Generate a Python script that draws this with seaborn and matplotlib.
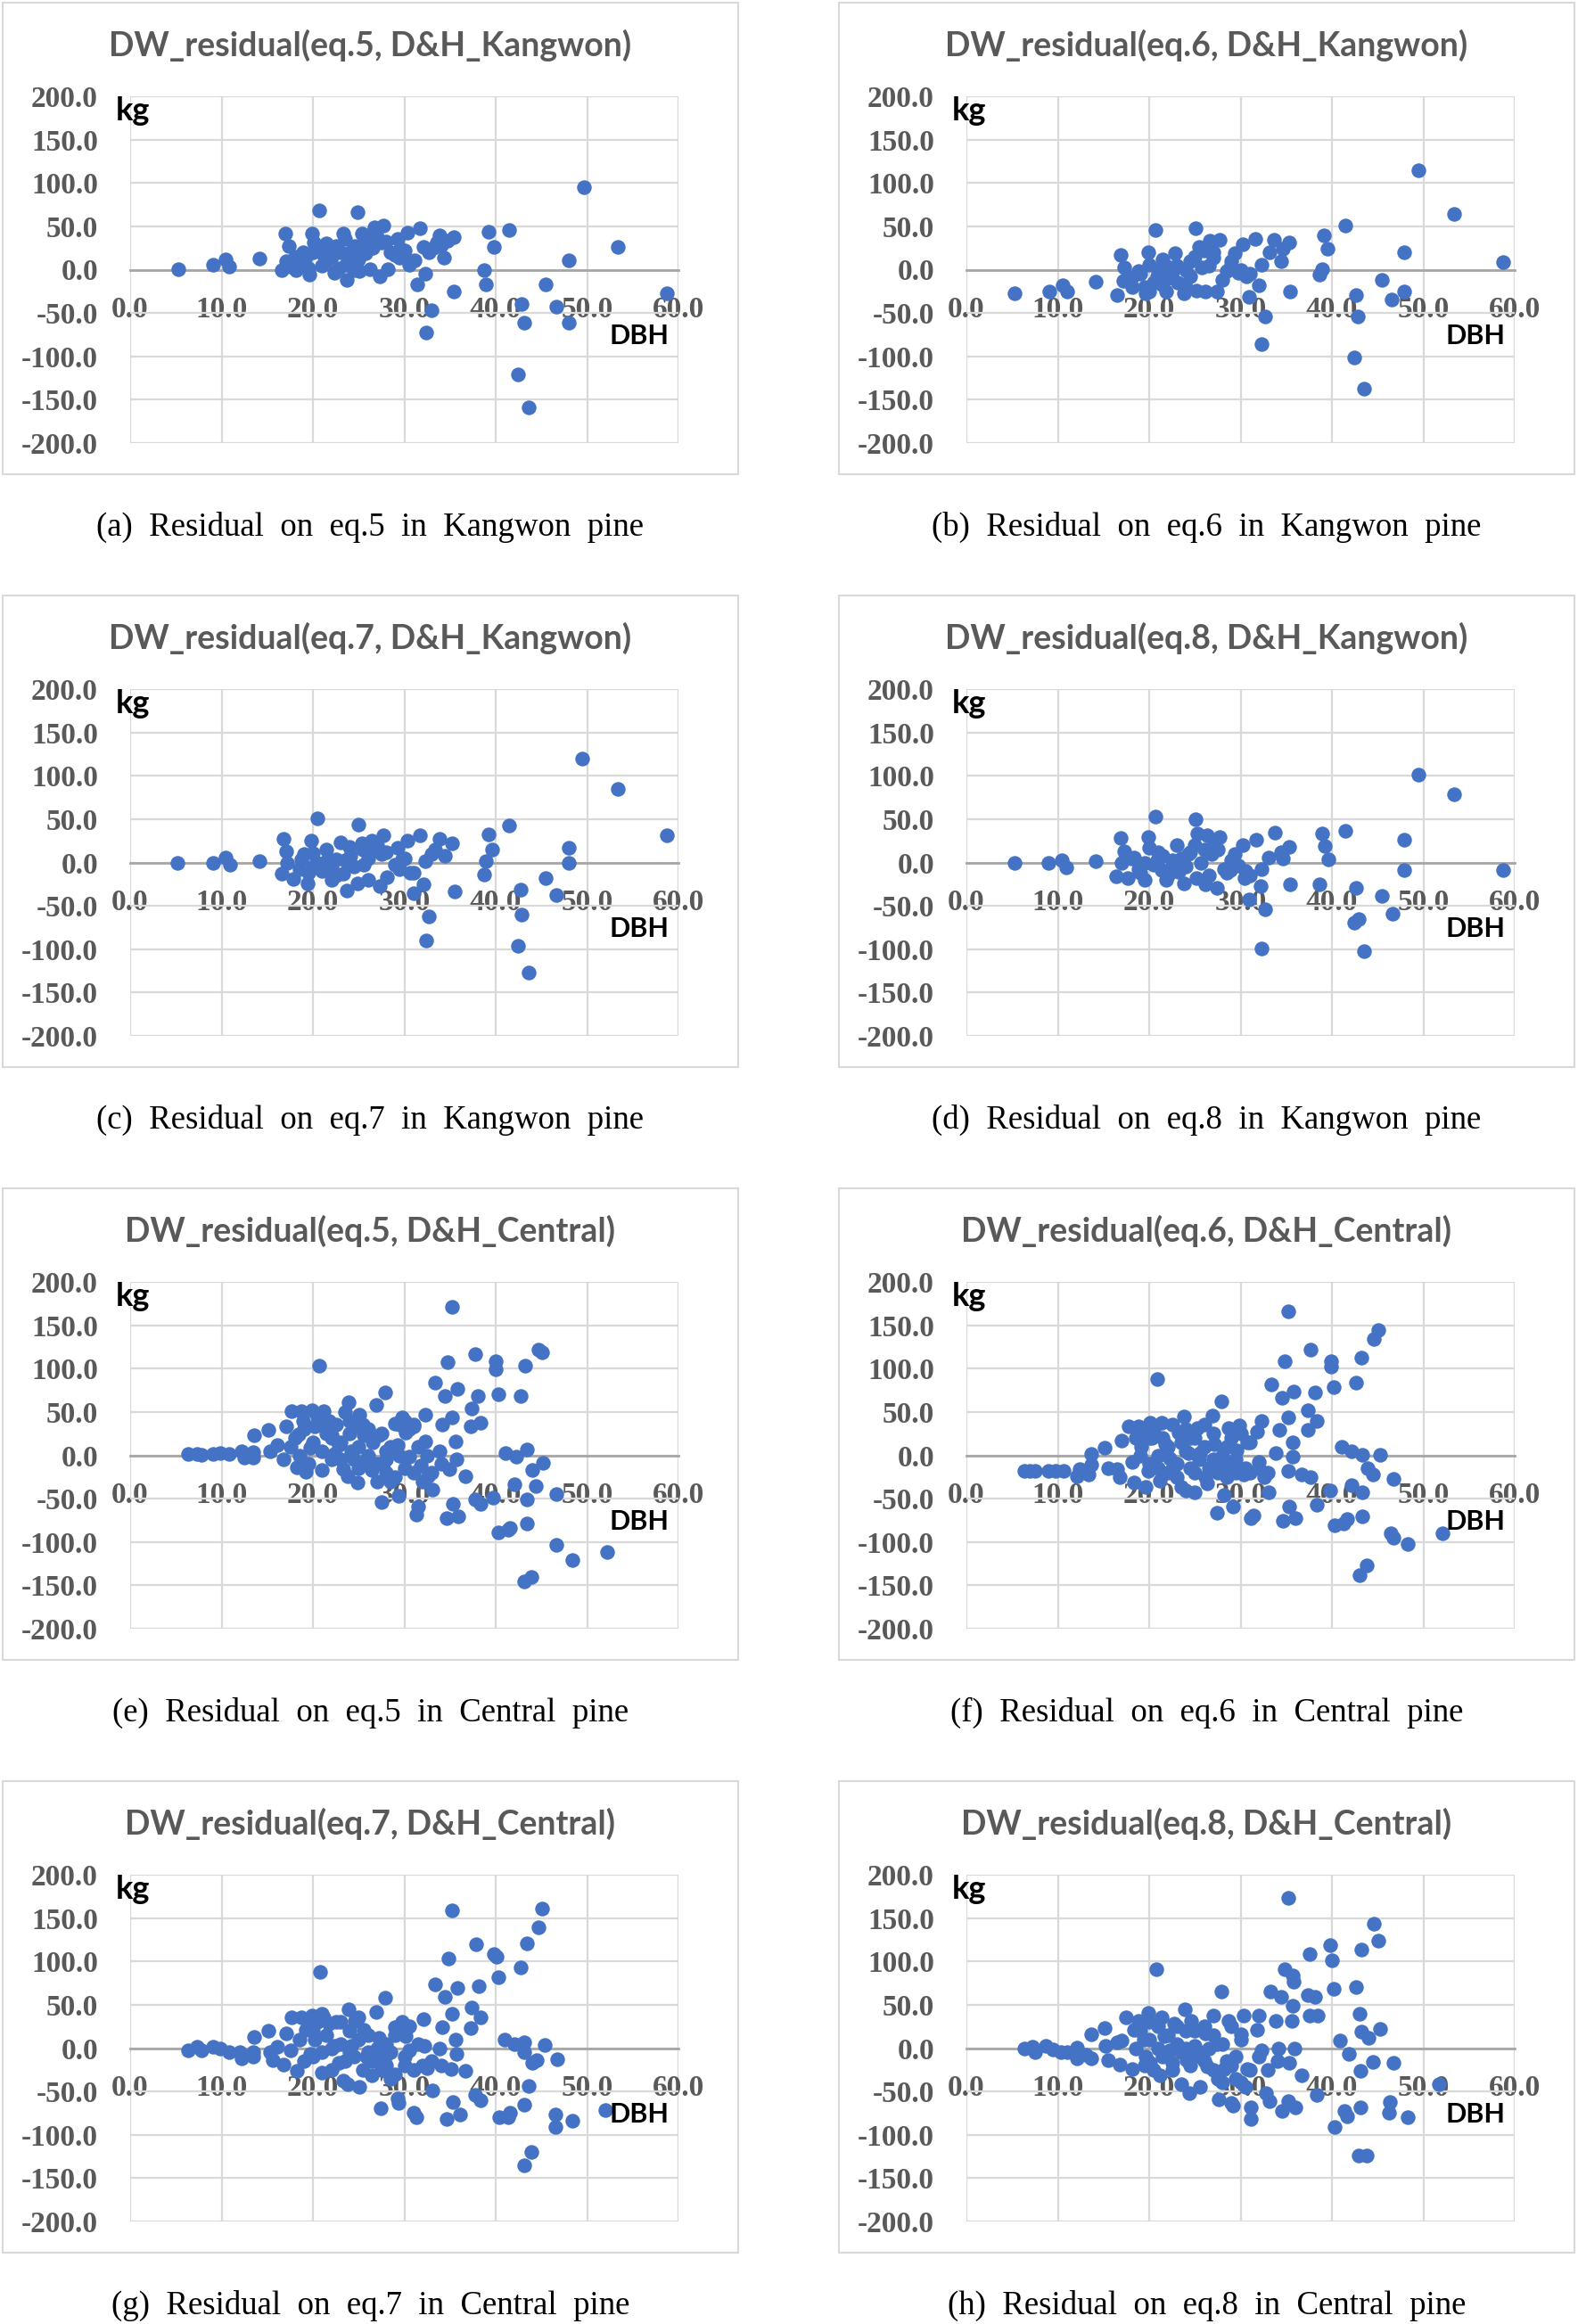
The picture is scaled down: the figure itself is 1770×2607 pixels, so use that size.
import matplotlib
matplotlib.use('Agg')
import matplotlib.pyplot as plt
import seaborn as sns
from matplotlib.patches import Rectangle

# ---- data (DBH, residual kg) ----
dbh_a = [5.3, 9.1, 10.4, 10.8, 14.1, 17.0, 17.4, 16.6, 17.1, 17.6,
         18.1, 18.9, 19.6, 19.9, 20.1, 20.0, 20.7, 21.2, 21.8, 21.5,
         22.3, 22.5, 23.3, 23.7, 23.6, 24.1, 24.6, 24.9, 25.1, 25.4,
         25.8, 26.2, 26.7, 26.9, 27.3, 27.7, 27.5, 28.2, 29.0, 29.3,
         29.6, 30.3, 30.5, 31.1, 31.4, 31.7, 32.1, 32.3, 33.0, 32.4,
         32.7, 33.6, 33.9, 34.3, 34.7, 35.4, 35.4, 38.7, 38.9, 39.2,
         39.8, 41.5, 42.4, 42.8, 43.1, 43.6, 45.5, 46.6, 48.0, 48.0,
         49.7, 53.4, 58.7,
         18.5, 19.2, 20.5, 21.0, 22.0, 22.8, 23.0, 24.0, 25.5, 26.0,
         26.5, 27.0, 28.0, 29.5, 30.0, 30.8, 19.5, 18.0, 21.5, 24.5,
         28.5, 33.2, 34.0, 25.0, 23.5]
res_a = [1, 6, 12, 4, 13, 42, 27, -1, 10, 4,
         -1, 20, -6, 42, 31, 20, 68, 17, 24, 10,
         -4, 27, 42, -12, 6, 20, 27, 66, -2, 42,
         19, 1, 49, 35, -8, 51, 31, 1, 17, 35,
         24, 43, 6, 11, -17, 48, 26, -5, -47, -73,
         20, 31, 40, 14, 33, 38, -25, 0, -17, 44,
         26, 46, -121, -40, -61, -159, -17, -43, -61, 11,
         95, 26, -27,
         8, 15, 25, 5, 15, 2, 20, 10, 30, 40,
         25, 38, 32, 14, 22, 10, 2, 15, 30, 0,
         20, 25, 28, 12, 35]

dbh_b = [5.3, 9.1, 10.5, 11.0, 14.1, 16.5, 16.9, 17.3, 17.2, 18.1,
         18.8, 19.6, 19.9, 20.0, 20.7, 20.9, 21.4, 21.9, 22.2, 22.8,
         23.1, 23.8, 24.0, 24.5, 25.1, 25.2, 25.5, 25.8, 26.1, 26.6,
         27.0, 27.4, 27.7, 28.0, 28.9, 29.4, 29.8, 30.2, 30.6, 30.9,
         31.6, 32.0, 32.3, 32.3, 32.7, 33.2, 33.7, 34.4, 34.6, 35.3,
         35.4, 38.6, 38.9, 39.1, 39.5, 41.5, 42.4, 42.6, 42.8, 43.5,
         45.5, 46.5, 47.9, 47.9, 49.5, 53.4, 58.7,
         18.0, 19.0, 20.5, 21.0, 22.0, 23.0, 24.5, 25.0, 26.0, 27.0,
         28.5, 29.0, 30.0, 31.0, 21.5, 19.5, 22.5, 26.5, 20.0, 24.0]
res_b = [-27, -25, -18, -25, -14, -29, 17, 3, -13, -20,
         -2, -27, 20, 6, 46, -8, -17, -25, 3, 19,
         -15, -27, -1, 10, 48, -24, 26, 3, -25, 33,
         14, -25, 34, -12, 3, 19, -4, 29, -8, -31,
         35, -18, 6, -86, -54, 20, 34, 10, 24, 31,
         -25, -6, 1, 40, 24, 51, -101, -29, -54, -137,
         -12, -34, 20, -25, 115, 64, 9,
         -10, -5, -15, 0, -10, 5, -8, 15, 22, 20,
         -2, 10, 0, -5, 12, -20, -3, 5, -25, -20]

dbh_c = [5.2, 9.1, 10.4, 10.9, 14.1, 16.8, 17.1, 16.6, 17.2, 17.9,
         18.7, 19.4, 19.8, 20.0, 20.5, 21.0, 21.5, 22.0, 22.5, 23.0,
         23.3, 23.7, 24.1, 24.9, 25.0, 25.4, 25.6, 26.0, 26.4, 26.9,
         27.3, 27.7, 28.1, 29.0, 29.3, 29.8, 30.3, 30.6, 31.0, 31.7,
         32.1, 32.3, 32.4, 32.7, 33.4, 33.9, 34.4, 35.2, 35.5, 38.7,
         38.9, 39.2, 39.6, 41.5, 42.4, 42.7, 42.8, 43.6, 45.5, 46.6,
         48.0, 48.0, 49.5, 53.4, 58.7,
         18.5, 19.0, 20.5, 21.5, 22.0, 23.5, 24.0, 25.5, 26.0, 27.0,
         28.0, 29.5, 30.0, 31.0, 19.5, 22.5, 24.5, 27.5, 20.0, 33.0]
res_c = [0, 0, 6, -3, 2, 27, 13, -13, -1, -19,
         4, -24, 25, 11, 51, -10, 2, -20, 4, 23,
         -13, -32, 8, -24, 44, 22, -3, -20, 25, 15,
         -27, 31, -17, -3, 17, 4, 25, -12, -35, 31,
         -25, 2, -90, -62, 15, 27, 8, 22, -33, -14,
         2, 32, 15, 43, -96, -31, -60, -127, -18, -38,
         0, 17, 120, 85, 31,
         -8, 10, 0, 15, -5, 3, 18, 15, 5, 20,
         12, -8, 5, -12, -12, -15, -5, 10, -5, 10]

dbh_d = [5.3, 9.0, 10.4, 10.9, 14.1, 16.4, 16.9, 17.3, 17.0, 17.7,
         18.3, 18.8, 19.5, 19.9, 20.0, 20.7, 20.9, 21.4, 21.9, 22.5,
         23.0, 23.2, 23.8, 24.3, 25.1, 25.2, 25.3, 25.7, 26.1, 26.3,
         26.8, 27.4, 27.7, 28.2, 28.9, 29.4, 29.8, 30.2, 30.4, 30.9,
         31.7, 32.2, 32.3, 32.3, 32.7, 33.1, 33.8, 34.4, 34.6, 35.3,
         35.4, 38.6, 38.9, 39.2, 39.6, 41.5, 42.4, 42.6, 42.9, 43.5,
         45.5, 46.6, 47.9, 47.9, 49.5, 53.4, 58.7,
         18.0, 19.0, 20.5, 21.0, 22.0, 23.5, 24.0, 25.0, 26.0, 27.0,
         28.5, 29.0, 30.5, 31.0, 21.5, 19.5, 22.5, 26.5, 24.5, 27.5]
res_d = [-1, -1, 3, -6, 2, -16, 28, 13, -1, -18,
         6, -8, -20, 29, 17, 53, 3, -9, -20, 3,
         20, -11, -24, 10, 50, -18, 33, -1, -25, 31,
         10, -29, 29, -8, -9, 10, -4, 20, -18, -43,
         26, -27, -8, -99, -54, 6, 34, 12, 5, 18,
         -25, -25, 33, 19, 4, 37, -69, -29, -65, -102,
         -39, -59, 26, -9, 101, 79, -9,
         5, -12, -3, 12, -15, 5, -5, 20, 15, 25,
         -12, 3, -10, -15, 8, 0, -5, -15, 12, 15]

dbh_e = [6.3, 7.3, 7.8, 9.1, 9.9, 10.8, 12.2, 12.5, 13.5, 13.5,
         13.6, 15.1, 15.3, 16.1, 16.8, 17.1, 17.6, 17.7, 18.7, 18.2,
         19.2, 18.4, 18.9, 19.7, 19.9, 20.2, 20.7, 21.0, 21.2, 21.8,
         22.0, 22.3, 22.8, 23.3, 23.8, 23.9, 24.2, 24.6, 24.9, 25.1,
         25.6, 25.9, 26.4, 26.9, 27.2, 27.5, 27.9, 27.7, 28.0, 28.5,
         29.0, 29.3, 29.4, 29.8, 30.1, 30.5, 31.0, 31.3, 31.5, 31.8,
         32.3, 32.3, 32.6, 33.1, 33.4, 33.9, 34.1, 34.4, 34.6, 34.7,
         34.9, 35.2, 35.2, 35.3, 35.6, 35.7, 35.8, 35.9, 36.7, 37.3,
         37.4, 37.8, 37.8, 38.0, 38.3, 38.3, 39.7, 40.0, 40.0, 40.3,
         40.3, 41.1, 41.4, 41.6, 42.0, 42.2, 42.7, 43.2, 43.4, 43.4,
         43.4, 43.1, 43.9, 44.0, 44.4, 44.7, 45.1, 45.2, 46.6, 46.6,
         48.4, 52.2,
         18.0, 18.5, 19.0, 19.5, 20.0, 20.5, 21.0, 21.5, 22.0, 22.5,
         23.0, 23.5, 24.0, 24.5, 25.0, 25.5, 26.0, 26.5, 27.0, 27.5,
         28.0, 28.5, 29.0, 29.5, 30.0, 30.5, 31.0, 31.5, 32.0, 32.5,
         33.0, 34.0, 21.0, 22.0, 23.0, 24.0, 25.0, 26.0, 27.0, 28.0,
         29.5, 30.0, 31.0]
res_e = [2, 2, 1, 2, 3, 2, 5, -3, 4, -3,
         23, 29, 5, 12, -5, 33, 10, 51, 51, -14,
         -19, 24, 40, 9, 52, 33, 103, -17, 51, 40,
         23, 2, 12, -16, -24, 61, 5, 33, -31, 47,
         23, -5, -17, 58, 23, -54, 72, -9, 5, -30,
         37, 12, -47, 44, 26, -2, 33, -68, -59, -12,
         47, 16, -24, -40, 84, 5, 35, 68, -72, 107,
         -16, 171, 44, -56, 16, -5, 77, -70, -24, 33,
         54, 117, -51, 68, -56, 38, -49, 108, 99, 70,
         -89, 3, -86, -84, -33, -2, 68, 103, 7, -51,
         -79, -145, -140, -17, -35, 122, 119, -9, -45, -103,
         -121, -112,
         20, 0, 30, -10, 15, 45, 5, 25, -5, 35,
         15, 50, 25, -5, 10, 35, 0, 15, -10, 25,
         -20, 10, -25, 0, -15, 30, -20, 10, -30, 0,
         -20, -10, 40, 20, -5, 40, -15, 30, -30, -5,
         35, 40, 35]

dbh_f = [6.3, 6.9, 7.5, 9.0, 9.8, 10.6, 12.1, 12.4, 13.4, 13.7,
         13.7, 15.1, 15.5, 16.5, 17.0, 16.8, 17.8, 18.1, 18.3, 18.8,
         19.1, 19.6, 19.9, 20.1, 20.3, 20.9, 21.2, 21.4, 21.8, 22.2,
         22.5, 23.2, 23.5, 23.8, 24.0, 24.3, 24.5, 25.0, 25.3, 25.6,
         26.1, 26.3, 26.9, 27.1, 27.4, 27.6, 27.9, 28.2, 28.7, 28.9,
         29.2, 29.6, 29.9, 30.3, 30.7, 31.1, 31.4, 31.8, 32.0, 32.3,
         32.6, 33.1, 33.4, 33.9, 34.2, 34.5, 34.6, 34.8, 35.2, 35.2,
         35.2, 35.3, 35.7, 35.7, 35.8, 36.0, 36.7, 37.4, 37.4, 37.7,
         37.7, 38.1, 38.3, 38.3, 39.8, 39.9, 39.9, 40.2, 40.3, 41.1,
         41.3, 41.7, 42.1, 42.1, 42.6, 43.2, 43.3, 43.3, 43.3, 43.0,
         43.8, 43.9, 44.5, 44.6, 45.1, 45.3, 46.7, 46.4, 46.7, 48.3,
         52.1,
         18.5, 19.0, 19.5, 20.0, 20.5, 21.0, 21.5, 22.0, 22.5, 23.0,
         23.5, 24.0, 24.5, 25.0, 25.5, 26.0, 26.5, 27.0, 27.5, 28.0,
         28.5, 29.0, 29.5, 30.0, 30.5, 31.0, 32.0, 33.0, 20.0, 21.0,
         22.0, 23.0, 24.0, 25.0, 26.0, 27.0, 28.5, 29.5, 31.0]
res_f = [-18, -18, -18, -18, -18, -18, -24, -16, -22, 2,
         -11, 9, -15, -16, 17, -25, 33, -8, -31, 33,
         10, -36, -18, 38, 20, 88, -29, 38, 13, -4,
         -16, 26, -36, 45, -41, 3, 20, -43, 31, 3,
         -25, -32, 46, 13, -66, -15, 62, -46, 31, -11,
         -59, 6, 34, -22, 15, -73, -69, 27, -8, 40,
         -25, -43, 82, 3, 29, 66, -76, 108, -18, 166,
         44, -59, 15, -2, 74, -73, -22, 29, 52, 122,
         -25, 72, -57, 40, -41, 108, 102, 79, -81, 10,
         -79, -74, -34, 5, 84, 113, 1, -43, -70, -138,
         -127, -15, -22, 134, 144, 1, -27, -90, -95, -102,
         -90,
         20, 0, 25, -10, 30, 0, 20, -20, 35, -10,
         15, 30, -15, 20, -5, 10, -15, 25, -20, 0,
         -25, 20, -20, 25, -15, -20, -15, -20, 20, -15,
         10, -25, 5, -20, 35, -5, 10, -5, 15]

dbh_g = [6.3, 7.3, 7.8, 9.1, 9.9, 10.8, 12.0, 12.2, 13.5, 13.5,
         13.6, 15.1, 15.3, 15.6, 16.1, 16.8, 17.1, 17.6, 17.7, 18.2,
         18.7, 19.2, 19.7, 19.9, 20.2, 20.8, 21.0, 21.2, 21.8, 22.3,
         22.8, 23.3, 23.8, 23.9, 24.2, 24.6, 25.1, 25.6, 25.9, 26.4,
         26.9, 27.2, 27.4, 27.9, 27.9, 28.5, 29.0, 29.3, 29.4, 29.8,
         30.1, 30.5, 31.0, 31.3, 32.1, 32.2, 32.5, 33.1, 33.4, 33.9,
         34.1, 34.4, 34.6, 34.8, 35.1, 35.2, 35.2, 35.3, 35.6, 35.7,
         35.8, 36.1, 36.7, 37.3, 37.4, 37.9, 37.8, 38.1, 38.3, 38.3,
         39.8, 40.1, 40.3, 40.4, 41.0, 41.4, 41.6, 42.0, 42.7, 43.1,
         43.1, 43.4, 43.6, 43.1, 43.1, 43.9, 44.0, 44.5, 44.7, 45.1,
         45.4, 46.7, 46.5, 46.5, 48.4, 52.0,
         18.5, 19.0, 19.5, 20.0, 20.5, 21.0, 21.5, 22.0, 22.5, 23.0,
         23.5, 24.0, 24.5, 25.0, 25.5, 26.0, 26.5, 27.0, 27.5, 28.0,
         28.5, 29.0, 29.5, 30.0, 30.5, 31.0, 31.5, 32.0, 33.0, 34.0,
         20.0, 21.0, 22.0, 23.0, 24.0, 25.0, 26.0, 27.0, 28.0, 29.0,
         30.0]
res_g = [-3, 2, -3, 2, -1, -5, -5, -12, -5, -10,
         13, 20, -5, -14, 2, -19, 17, -3, 35, -26,
         35, 21, -7, 38, 10, 88, -28, 35, 28, 3,
         -17, -38, -42, 45, 3, 31, -45, 21, -10, -31,
         42, 12, -69, 58, -10, -35, 24, -58, -63, 30,
         14, -3, -75, -80, 33, 3, -23, -49, 74, -1,
         24, 59, -82, 103, -24, 159, 40, -62, 10, -7,
         69, -77, -26, 23, 47, 120, -54, 71, -60, 35,
         108, 105, 82, -80, 10, -80, -75, 5, 93, 7,
         -5, 121, -44, -65, -135, -120, -17, -14, 139, 161,
         4, -13, -77, -91, -84, -71,
         10, -15, 25, -10, 30, -5, 15, -25, 30, 5,
         -15, 20, -10, 10, -25, 15, -15, 0, -25, -20,
         -5, -30, 20, -20, 25, -25, 5, -20, -15, -20,
         20, 40, 0, 30, -5, 35, -5, -15, 5, 15,
         -10]

dbh_h = [6.3, 7.2, 7.5, 8.7, 9.5, 10.3, 11.0, 12.1, 12.1, 13.1,
         13.7, 13.7, 15.1, 15.2, 15.5, 16.5, 16.8, 17.0, 17.5, 18.1,
         18.3, 18.8, 19.4, 19.6, 19.9, 20.1, 20.8, 21.2, 21.4, 21.7,
         22.2, 22.5, 22.7, 23.5, 23.9, 24.1, 24.4, 24.6, 25.0, 25.6,
         26.1, 26.3, 27.0, 27.4, 27.6, 27.9, 28.2, 28.7, 29.0, 29.2,
         29.5, 30.0, 30.3, 30.7, 31.1, 31.1, 31.8, 32.0, 32.3, 32.8,
         33.2, 33.3, 33.9, 34.1, 34.4, 34.5, 34.8, 35.2, 35.2, 35.3,
         35.6, 35.7, 35.7, 35.8, 35.9, 36.0, 36.7, 37.4, 37.6, 37.6,
         38.1, 38.3, 38.4, 39.8, 40.0, 40.2, 40.3, 40.9, 41.4, 41.7,
         41.9, 42.6, 43.0, 43.1, 43.1, 43.2, 42.9, 43.8, 43.2, 44.0,
         44.5, 44.6, 45.1, 45.3, 46.7, 46.3, 46.2, 48.3, 51.7,
         18.5, 19.0, 19.5, 20.0, 20.5, 21.0, 21.5, 22.0, 22.5, 23.0,
         23.5, 24.0, 24.5, 25.0, 25.5, 26.0, 26.5, 27.0, 27.5, 28.0,
         28.5, 29.0, 29.5, 30.0, 30.5, 31.0, 32.0, 33.0, 34.0, 20.0,
         21.0, 22.0, 23.0, 24.0, 25.0, 26.0, 27.0, 28.0, 29.0, 30.0]
res_h = [0, 2, -5, 3, -2, -5, -5, 1, -12, -8,
         -12, 16, 23, 3, -14, 7, -19, 9, 35, -24,
         21, 31, 10, -10, 41, -17, 91, -31, 35, 14,
         -3, -17, 28, -42, 45, -14, -52, 31, 3, -45,
         17, -21, 38, 5, -59, 65, -24, 31, -63, -66,
         -10, 16, 38, -24, -68, -82, 21, 38, -3, -52,
         -61, 65, 31, 0, 59, -73, 91, 173, -61, -17,
         31, 84, 49, 77, 0, -68, -31, 61, 108, 38,
         59, -54, 38, 119, 101, 68, -91, 9, -73, -79,
         -7, 70, 40, -26, -68, 114, -124, -124, 19, 12,
         -16, 143, 124, 22, -17, -62, -75, -80, -42,
         0, 20, -20, 10, -25, 25, -10, 15, -25, 5,
         -5, 20, -20, -10, -5, -15, 0, -25, -35, -40,
         -15, -20, -35, -40, -45, -25, -10, -25, -15, 30,
         0, -5, 25, 0, 20, 25, 15, 5, 25, 10]

titles = ['DW_residual(eq.5, D&H_Kangwon)', 'DW_residual(eq.6, D&H_Kangwon)',
          'DW_residual(eq.7, D&H_Kangwon)', 'DW_residual(eq.8, D&H_Kangwon)',
          'DW_residual(eq.5, D&H_Central)', 'DW_residual(eq.6, D&H_Central)',
          'DW_residual(eq.7, D&H_Central)', 'DW_residual(eq.8, D&H_Central)']
captions = ['(a)  Residual  on  eq.5  in  Kangwon  pine', '(b)  Residual  on  eq.6  in  Kangwon  pine',
            '(c)  Residual  on  eq.7  in  Kangwon  pine', '(d)  Residual  on  eq.8  in  Kangwon  pine',
            '(e)  Residual  on  eq.5  in  Central  pine', '(f)  Residual  on  eq.6  in  Central  pine',
            '(g)  Residual  on  eq.7  in  Central  pine', '(h)  Residual  on  eq.8  in  Central  pine']
xticks = [0, 10, 20, 30, 40, 50, 60]
yticks = [-200, -150, -100, -50, 0, 50, 100, 150, 200]
series = [(dbh_a, res_a), (dbh_b, res_b), (dbh_c, res_c), (dbh_d, res_d),
          (dbh_e, res_e), (dbh_f, res_f), (dbh_g, res_g), (dbh_h, res_h)]

sns.set_style('white')

W, H = 1770, 2607
fig = plt.figure(figsize=(W / 100, H / 100), dpi=100)

col_x = [3, 941]
row_y = [3, 668, 1333, 1998]
box_w, box_h = 825, 529

for i, (dbh, res) in enumerate(series):
    bx = col_x[i % 2]
    by = row_y[i // 2]
    # chart frame
    fig.add_artist(Rectangle((bx / W, 1 - (by + box_h) / H), box_w / W, box_h / H,
                             transform=fig.transFigure, fill=False,
                             edgecolor='#D9D9D9', linewidth=1.5))
    ax = fig.add_axes([(bx + 143) / W, 1 - (by + 105 + 389) / H, 615 / W, 389 / H])
    sns.scatterplot(x=dbh, y=res, ax=ax, color='#4472C4', s=140, linewidth=0, zorder=3)
    ax.set_xlim(0, 60)
    ax.set_ylim(-200, 200)
    ax.set_xticks(xticks)
    ax.set_yticks(yticks)
    ax.set_xticklabels([f'{v:.1f}' for v in xticks])
    ax.set_yticklabels([f'{v:.1f}' for v in yticks])
    ax.grid(True, color='#D9D9D9', linewidth=1.6)
    ax.set_axisbelow(True)
    for s in ['top', 'right', 'left']:
        ax.spines[s].set_visible(False)
    ax.spines['bottom'].set_position(('data', 0))
    ax.spines['bottom'].set_color('#A6A6A6')
    ax.spines['bottom'].set_linewidth(2)
    ax.tick_params(axis='both', length=0, labelsize=24, labelcolor='#595959')
    ax.tick_params(axis='x', pad=21)
    ax.tick_params(axis='y', pad=26)
    for lab in ax.get_xticklabels() + ax.get_yticklabels():
        lab.set_fontfamily('Liberation Serif')
        lab.set_fontweight('bold')
    ax.set_xlabel('')
    ax.set_ylabel('')
    ax.text(-1.6, 183, 'kg', ha='left', va='center', fontsize=26,
            fontweight='bold', family='Lato', color='black')
    ax.text(59, -77, 'DBH', ha='right', va='center', fontsize=22,
            fontweight='bold', family='Lato', color='black')
    # titles and captions
    fig.text((bx + box_w / 2) / W, 1 - (by + 48) / H, titles[i], ha='center', va='center',
             fontsize=27, fontweight='bold', family='Lato', color='#595959')
    fig.text((bx + box_w / 2) / W, 1 - (by + 588) / H, captions[i], ha='center', va='center',
             fontsize=26.5, family='Liberation Serif', color='black')

fig.savefig('out.png', dpi=100, facecolor='white')
